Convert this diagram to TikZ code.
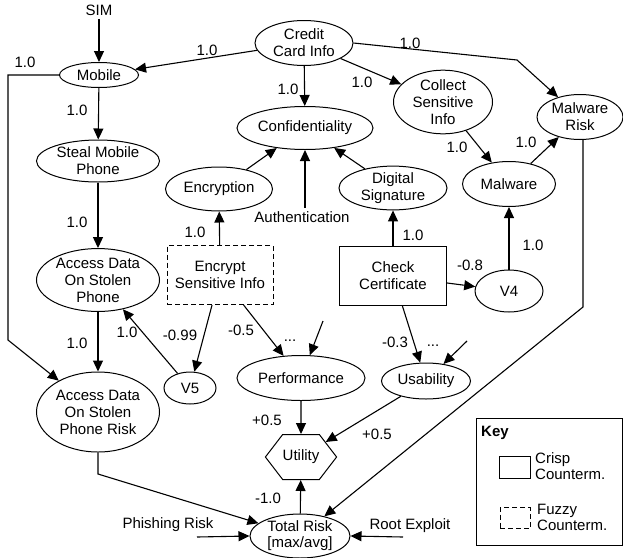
\documentclass[tikz,border=0pt]{standalone}
\usepackage{fontspec}
\setmainfont{Liberation Sans}
\usetikzlibrary{shapes.geometric,shapes.symbols,arrows.meta}

\newcommand\dgfont{\fontsize{15}{17}\selectfont}

\tikzset{
  goal/.style={ellipse,draw,line width=1pt,inner sep=0pt,align=center},
  sz/.style 2 args={minimum width=#1pt,minimum height=#2pt},
  counterm/.style={rectangle,draw,line width=1pt,inner sep=0pt,align=center},
  fuzzy/.style={counterm,dash pattern=on 5pt off 3pt},
  wt/.style={inner sep=0pt},
  link/.style={line width=1.1pt,-{Triangle[length=11pt,width=10pt]}}
}

\begin{document}
\begin{tikzpicture}[x=1pt,y=-1pt,font=\dgfont]
\useasboundingbox (0,0) rectangle (623,557);

% goals and risks
\node[goal,sz={98}{45}] (credit) at (304,43) {Credit\\Card Info};
\node[goal,sz={79}{25}] (mobile) at (99,75) {Mobile};
\node[goal,sz={136}{43}] (conf) at (305,128) {Confidentiality};
\node[goal,sz={99}{60}] (collect) at (443,102) {Collect\\Sensitive\\Info};
\node[goal,sz={86}{45}] (mrisk) at (580,117) {Malware\\Risk};
\node[goal,sz={93}{45}] (malware) at (509,184) {Malware};
\node[goal,sz={108}{43}] (ds) at (393,188) {Digital\\Signature};
\node[goal,sz={107}{44}] (enc) at (219,189) {Encryption};
\node[goal,sz={123}{42}] (steal) at (98,161) {Steal Mobile\\Phone};
\node[goal,sz={123}{52}] (adsp) at (98,280) {Access Data\\On Stolen\\Phone};
\node[goal,sz={123}{80}] (adspr) at (98,412) {Access Data\\On Stolen\\Phone Risk};
\node[goal,sz={68}{42}] (v4) at (509,291) {V4};
\node[goal,sz={52}{32}] (v5) at (190,388) {V5};
\node[goal,sz={128}{45}] (perf) at (301,378) {Performance};
\node[goal,sz={89}{36}] (usab) at (426,381) {Usability};
\node[goal,sz={100}{44}] (total) at (300,536) {Total Risk\\[-1pt][max/avg]};
\node[draw,line width=1pt,inner sep=0pt,signal,signal to=west and east,
  signal pointer angle=105,sz={68}{45}] (util) at (301,457) {Utility};

% countermeasures
\node[fuzzy,sz={106}{59}] (esi) at (220,275) {Encrypt\\Sensitive Info};
\node[counterm,sz={107}{59}] (check) at (393,276) {Check\\Certificate};

% plain texts
\node (sim) at (99,10) {SIM};
\node (auth) at (302,217) {Authentication};
\node (phish) at (168,525) {Phishing Risk};
\node (root) at (410,526) {Root Exploit};
\node (dots1) at (290,341) {...};
\node (dots2) at (433,346) {...};

% weights
\foreach \x/\y/\w [count=\i] in {25/62/1.0, 207/50/1.0, 288/89/1.0, 410/43/1.0,
  362/82/1.0, 457/147/1.0, 526/142/1.0, 77/110/1.0, 77/222/1.0, 195/232/1.0,
  413/235/1.0, 533/245/1.0, 470/265/-0.8, 77/343/1.0, 127/332/1.0,
  180/335/-0.99, 241/330/-0.5, 395/342/-0.3, 267/420/+0.5, 377/434/+0.5,
  268/498/-1.0}
  \node[wt] (w\i) at (\x,\y) {\w};

% bends and free ends
\coordinate (b1) at (517,60);
\coordinate (b2) at (583,307);
\coordinate (b3) at (8,75);
\coordinate (b4) at (8,340);
\coordinate (b5) at (98,474);
\coordinate (in1) at (323,321);
\coordinate (in2) at (467,341);
\coordinate (phin) at (197,537);
\coordinate (rtin) at (403,537);

% connectors
\draw[link] (sim) -- (mobile);
\draw[link] (credit) -- (mobile);
\draw[link] (credit) -- (conf);
\draw[link] (credit) -- (collect);
\draw[link] (credit.east) -- (b1) -- (mrisk);
\draw[link] (collect) -- (malware);
\draw[link] (malware) -- (mrisk);
\draw[link] (ds) -- (conf);
\draw[link] (enc) -- (conf);
\draw[link] (conf.south |- auth.north) -- (conf.south);
\draw[link] (esi) -- (enc);
\draw[link] (check) -- (ds);
\draw[link] (check) -- (v4);
\draw[link] (v4) -- (malware);
\draw[link] (mobile) -- (steal);
\draw[link] (steal) -- (adsp);
\draw[link] (adsp) -- (adspr);
\draw[link] (mobile.west) -- (b3) -- (b4) -- (adspr);
\draw[link] (v5) -- (adsp);
\draw[link] (esi) -- (v5);
\draw[link] (esi) -- (perf);
\draw[link] (in1) -- (perf);
\draw[link] (check) -- (usab);
\draw[link] (in2) -- (usab);
\draw[link] (perf) -- (util);
\draw[link] (usab) -- (util);
\draw[link] (total) -- (util);
\draw[link] (b2 |- mrisk.south) -- (b2) -- (total);
\draw[link] (adspr) -- (b5) -- (total);
\draw[link] (phin) -- (total.west);
\draw[link] (rtin) -- (total.east);

% key
\draw[line width=1pt] (476,418) rectangle (622,545);
\node[font=\dgfont\bfseries] (key) at (495,433) {Key};
\node[counterm,sz={31}{22}] (kcrisp) at (515,467) {};
\node[fuzzy,sz={30}{21}] (kfuzzy) at (515,518) {};
\node[align=left,anchor=west,inner sep=0pt] (tcrisp) at (535,466) {Crisp\\[-1pt]Counterm.};
\node[align=left,anchor=west,inner sep=0pt] (tfuzzy) at (537,517) {Fuzzy\\[-1pt]Counterm.};
\end{tikzpicture}
\end{document}
